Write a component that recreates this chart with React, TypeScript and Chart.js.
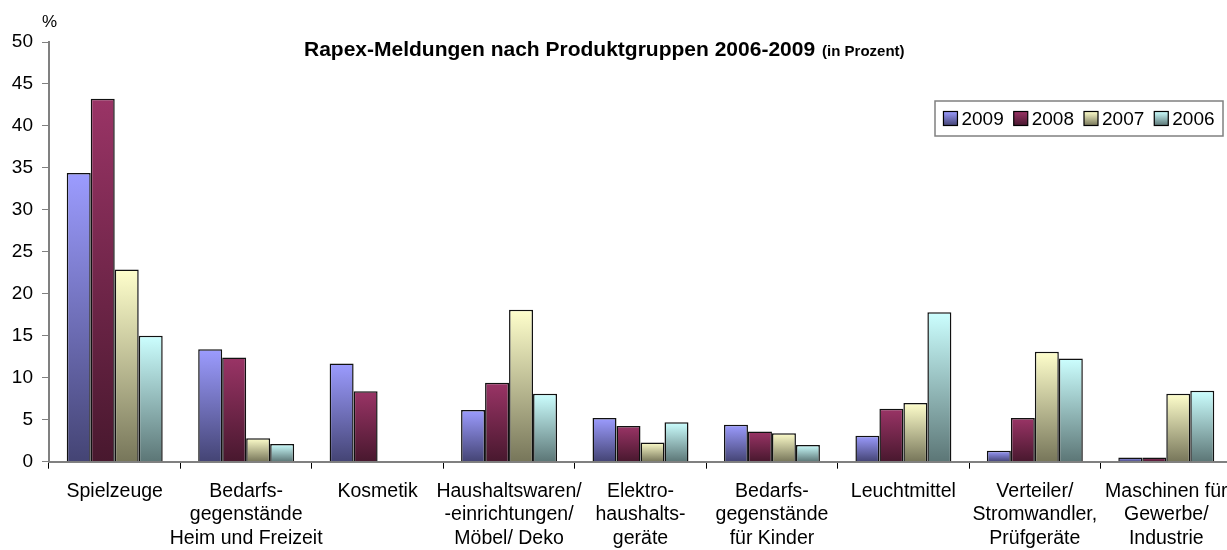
import React, { useEffect, useRef } from 'react';
import { Chart, registerables } from 'chart.js';

Chart.register(...registerables);

const FONT = '"Liberation Sans", Arial, sans-serif';

const categories: string[][] = [
  ['Spielzeuge'],
  ['Bedarfs-', 'gegenstände', 'Heim und Freizeit'],
  ['Kosmetik'],
  ['Haushaltswaren/', '-einrichtungen/', 'Möbel/ Deko'],
  ['Elektro-', 'haushalts-', 'geräte'],
  ['Bedarfs-', 'gegenstände', 'für Kinder'],
  ['Leuchtmittel'],
  ['Verteiler/', 'Stromwandler,', 'Prüfgeräte'],
  ['Maschinen für', 'Gewerbe/', 'Industrie'],
];

const seriesLabels = ['2009', '2008', '2007', '2006'];

const values2009 = [34.4, 13.4, 11.7, 6.15, 5.2, 4.4, 3.1, 1.3, 0.5];
const values2008 = [43.25, 12.4, 8.4, 9.4, 4.25, 3.6, 6.3, 5.2, 0.5];
const values2007 = [22.9, 2.8, null, 18.1, 2.3, 3.4, 7.0, 13.1, 8.1];
const values2006 = [15.0, 2.1, null, 8.1, 4.7, 2.0, 17.8, 12.3, 8.45];

const yMin = 0;
const yMax = 50;
const yStep = 5;

const titleMain = 'Rapex-Meldungen nach Produktgruppen 2006-2009';
const titleSub = '(in Prozent)';
const yUnit = '%';

const gradColors: [string, string][] = [
  ['#9C9CFF', '#444474'],
  ['#9A3466', '#48182E'],
  ['#FFFFCC', '#77765A'],
  ['#CCFFFF', '#5C7676'],
];

function makeBg(i: number) {
  return (ctx: any) => {
    const chart = ctx.chart;
    const ys = chart.scales && chart.scales.y;
    if (ctx.type !== 'data' || !ys || !ctx.parsed) return gradColors[i][0];
    const top = ys.getPixelForValue(ctx.parsed.y);
    const bot = ys.getPixelForValue(0);
    if (!isFinite(top) || !isFinite(bot) || Math.abs(bot - top) < 1) return gradColors[i][1];
    const g = chart.ctx.createLinearGradient(0, top, 0, bot);
    g.addColorStop(0, gradColors[i][0]);
    g.addColorStop(1, gradColors[i][1]);
    return g;
  };
}

const overlayPlugin = {
  id: 'overlay',
  afterDraw(chart: any) {
    const c = chart.ctx as CanvasRenderingContext2D;
    c.save();
    c.fillStyle = '#000';
    c.textAlign = 'left';
    c.textBaseline = 'alphabetic';
    // unit label
    c.font = `17px ${FONT}`;
    c.fillText(yUnit, 42, 27);
    // title
    c.font = `bold 21px ${FONT}`;
    c.fillText(titleMain, 304, 56);
    const wMain = c.measureText(titleMain).width;
    c.font = `bold 15px ${FONT}`;
    c.fillText(titleSub, 304 + wMain + 7, 56);

    // legend
    const bx = 935, by = 101, bw = 288, bh = 35;
    c.fillStyle = '#fff';
    c.fillRect(bx, by, bw, bh);
    c.strokeStyle = '#808080';
    c.lineWidth = 1.5;
    c.strokeRect(bx, by, bw, bh);
    c.font = `19px ${FONT}`;
    const sw = 14, gap = 4, spacing = 10;
    const labels = chart.data.datasets.map((d: any) => d.label as string);
    const widths = labels.map((l: string) => c.measureText(l).width);
    const total = widths.reduce((a: number, w: number) => a + sw + gap + w, 0) + spacing * (labels.length - 1);
    let x = bx + (bw - total) / 2;
    const cy = by + bh / 2;
    labels.forEach((l: string, i: number) => {
      const sy = cy - sw / 2;
      const g = c.createLinearGradient(0, sy, 0, sy + sw);
      g.addColorStop(0, gradColors[i][0]);
      g.addColorStop(1, gradColors[i][1]);
      c.fillStyle = g;
      c.fillRect(x, sy, sw, sw);
      c.strokeStyle = '#000';
      c.lineWidth = 1.2;
      c.strokeRect(x, sy, sw, sw);
      c.fillStyle = '#000';
      c.textBaseline = 'middle';
      c.fillText(l, x + sw + gap, cy + 1);
      x += sw + gap + widths[i] + spacing;
    });
    c.restore();
  },
};

export default function App() {
  const ref = useRef<HTMLCanvasElement | null>(null);

  useEffect(() => {
    if (!ref.current) return;
    const seriesValues = [values2009, values2008, values2007, values2006];
    const chart = new Chart(ref.current, {
      type: 'bar',
      data: {
        labels: categories,
        datasets: seriesLabels.map((label, i) => ({
          label,
          data: seriesValues[i],
          backgroundColor: makeBg(i),
          borderColor: '#111',
          borderWidth: 1.5,
          categoryPercentage: 0.73,
          barPercentage: 1,
        })),
      },
      options: {
        animation: false,
        responsive: false,
        maintainAspectRatio: false,
        devicePixelRatio: 1,
        layout: { padding: { top: 42, right: 8, left: 0, bottom: 0 } },
        plugins: {
          legend: { display: false },
          title: { display: false },
          tooltip: { enabled: false },
        },
        scales: {
          x: {
            grid: {
              offset: true,
              drawOnChartArea: false,
              drawTicks: true,
              tickLength: 7,
              color: '#000',
              lineWidth: 1,
            },
            border: { color: '#808080', width: 2 },
            ticks: {
              color: '#000',
              font: { family: FONT, size: 19.5, lineHeight: 1.2 },
              padding: 11,
              maxRotation: 0,
              minRotation: 0,
              autoSkip: false,
            },
            afterFit: (s: any) => {
              s.height = 88.3;
            },
          },
          y: {
            min: yMin,
            max: yMax,
            ticks: {
              stepSize: yStep,
              color: '#000',
              font: { family: FONT, size: 19 },
              padding: 9,
            },
            grid: {
              drawOnChartArea: false,
              drawTicks: true,
              tickLength: 7,
              color: '#808080',
            },
            border: { color: '#808080', width: 2 },
            afterFit: (s: any) => {
              s.width = 49;
            },
          },
        },
      } as any,
      plugins: [overlayPlugin],
    });
    return () => chart.destroy();
  }, []);

  return (
    <div
      style={{
        position: 'fixed',
        left: 0,
        top: 0,
        width: 1227,
        height: 550,
        overflow: 'hidden',
        background: '#fff',
      }}
    >
      <canvas ref={ref} width={1240} height={550} style={{ display: 'block', width: 1240, height: 550 }} />
    </div>
  );
}
